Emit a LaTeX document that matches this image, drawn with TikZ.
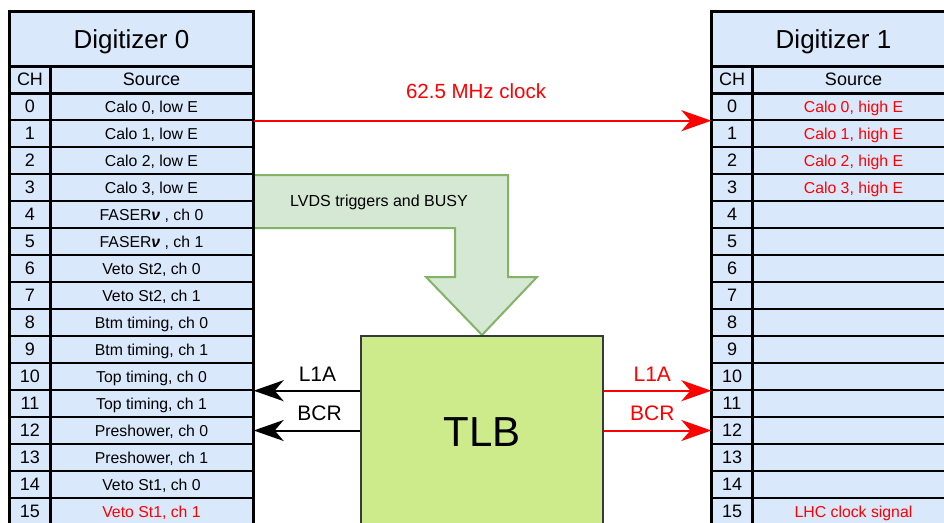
\documentclass[tikz,border=0pt]{standalone}
\usepackage{fontspec}
\setmainfont{Liberation Sans}
\usetikzlibrary{arrows.meta}
\definecolor{digiblue}{HTML}{DAE8FC}
\definecolor{trigfill}{HTML}{D5E8D4}
\definecolor{trigline}{HTML}{82B366}
\definecolor{tlbfill}{HTML}{CDEB8B}
\definecolor{tlbline}{HTML}{36393D}
\definecolor{sigred}{HTML}{FF0000}
\begin{document}
\begin{tikzpicture}[x=1pt, y=-1pt, >={Stealth[length=30pt,width=21pt,inset=9pt]},
  cell/.style={draw, line width=1.4pt, fill=digiblue, inner sep=0pt, text depth=0pt,
    minimum height=27pt, font=\fontsize{15.8}{18}\selectfont},
  chcell/.style={cell, minimum width=40pt, font=\fontsize{18}{21}\selectfont},
  srccell/.style={cell, minimum width=203pt},
  titlecell/.style={cell, minimum width=243pt, minimum height=54pt,
    font=\fontsize{26}{30}\selectfont},
  sig/.style={->, line width=2pt},
  lbl/.style={font=\fontsize{21}{24}\selectfont, above=5pt}]
  \useasboundingbox (0,0) rectangle (944,522);
  \clip (0,0) rectangle (944,522);

  % LVDS triggers and BUSY
  \draw[draw=trigline, fill=trigfill, line width=2pt]
    (253,175) -- (508,175) -- (508,277) -- (537,277) -- (482,335)
    -- (426,277) -- (455,277) -- (455,228) -- (253,228) -- cycle;
  \node[font=\fontsize{16}{19}\selectfont] (trig) at (379,202) {LVDS triggers and BUSY};

  % Digitizer 0
  \node[titlecell] (title0) at (131.5,39) {Digitizer 0};
  \node[chcell] (ch0) at (30,79.5) {CH};
  \node[srccell, font=\fontsize{18}{21}\selectfont] (src0) at (151.5,79.5) {Source};
  \foreach \i/\src/\col in {0/{Calo 0, low E}/black, 1/{Calo 1, low E}/black,
      2/{Calo 2, low E}/black, 3/{Calo 3, low E}/black,
      4/{FASER{\bfseries\itshape ν} , ch 0}/black, 5/{FASER{\bfseries\itshape ν} , ch 1}/black,
      6/{Veto St2, ch 0}/black, 7/{Veto St2, ch 1}/black,
      8/{Btm timing, ch 0}/black, 9/{Btm timing, ch 1}/black,
      10/{Top timing, ch 0}/black, 11/{Top timing, ch 1}/black,
      12/{Preshower, ch 0}/black, 13/{Preshower, ch 1}/black,
      14/{Veto St1, ch 0}/black, 15/{Veto St1, ch 1}/sigred}{
    \node[chcell] (L\i) at (30,106.5+27*\i) {\i};
    \node[srccell, text=\col] (LS\i) at (151.5,106.5+27*\i) {\src};
  }
  \draw[line width=2.6pt] (title0.north west) rectangle (LS15.south east);
  \draw[line width=2.4pt] (ch0.north east) -- (L15.south east);
  \draw[line width=2.2pt] (title0.south west) -- (title0.south east);
  \draw[line width=2.2pt] (ch0.south west) -- (src0.south east);

  % Digitizer 1
  \node[titlecell] (title1) at (833.5,39) {Digitizer 1};
  \node[chcell] (ch1) at (732,79.5) {CH};
  \node[srccell, font=\fontsize{18}{21}\selectfont] (src1) at (853.5,79.5) {Source};
  \foreach \i/\src in {0/{Calo 0, high E}, 1/{Calo 1, high E},
      2/{Calo 2, high E}, 3/{Calo 3, high E}, 4/{}, 5/{}, 6/{}, 7/{}, 8/{},
      9/{}, 10/{}, 11/{}, 12/{}, 13/{}, 14/{}, 15/{LHC clock signal}}{
    \node[chcell] (R\i) at (732,106.5+27*\i) {\i};
    \node[srccell, text=sigred] (RS\i) at (853.5,106.5+27*\i) {\src};
  }
  \draw[line width=2.6pt] (title1.north west) rectangle (RS15.south east);
  \draw[line width=2.4pt] (ch1.north east) -- (R15.south east);
  \draw[line width=2.2pt] (title1.south west) -- (title1.south east);
  \draw[line width=2.2pt] (ch1.south west) -- (src1.south east);

  % TLB
  \node[draw=tlbline, fill=tlbfill, line width=2pt, minimum width=242pt,
    minimum height=192pt, font=\fontsize{42}{48}\selectfont] (tlb) at (482,432) {TLB};

  % signals
  \draw[sig, sigred] (LS0.south east) -- node[lbl, pos=0.486, above=13pt,
    font=\fontsize{20.5}{24}\selectfont] {62.5 MHz clock} (R0.south west);
  \draw[sig] (tlb.west |- LS10.south east) -- node[lbl, pos=0.4] {L1A} (LS10.south east);
  \draw[sig] (tlb.west |- LS12.east) -- node[lbl, pos=0.38] {BCR} (LS12.east);
  \draw[sig, sigred] (tlb.east |- R10.south west) -- node[lbl, pos=0.45] {L1A} (R10.south west);
  \draw[sig, sigred] (tlb.east |- R12.west) -- node[lbl, pos=0.45] {BCR} (R12.west);
\end{tikzpicture}
\end{document}
